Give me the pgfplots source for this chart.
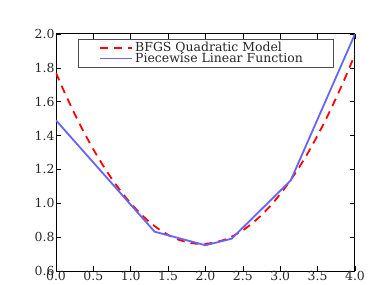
\documentclass[border=0pt]{standalone}
\usepackage{fontspec}
\setmainfont{DejaVu Serif}
\usepackage{pgfplots}
\pgfplotsset{compat=1.18}
\begin{document}
\begin{tikzpicture}[x=1bp,y=1bp]
\useasboundingbox (-56bp,-14bp) rectangle (318bp,271bp);
\begin{axis}[
  at={(0,0)}, anchor=south west,
  scale only axis, width=299bp, height=237bp,
  xmin=0, xmax=4, ymin=0.6, ymax=2.0,
  xtick={0,0.5,...,4}, ytick={0.6,0.8,...,2.0},
  tick align=inside, tick pos=both, major tick length=5bp,
  axis line style={line width=1pt},
  every tick/.style={black, line width=0.6pt},
  /pgf/number format/assume math mode=true,
  xticklabel style={/pgf/number format/.cd, fixed, fixed zerofill, precision=1},
  yticklabel style={/pgf/number format/.cd, fixed, fixed zerofill, precision=1},
  ticklabel style={font=\fontsize{12.5}{13}\selectfont, text=black!85},
  xticklabel shift=-3bp,
  yticklabel shift=-2bp,
  legend style={at={(0.074,0.979)}, anchor=north west, draw=black!70, line width=0.6pt,
    font=\fontsize{12.5}{10}\selectfont, text=black!85, inner ysep=1pt, inner xsep=21bp, row sep=-4pt,
    /tikz/every even column/.append style={column sep=4pt}},
  legend cell align=left,
  legend image code/.code={\draw[#1] (0bp,0bp) -- (32bp,0bp);},
]
\addplot[red, line width=1.8pt, dash pattern=on 8bp off 6bp] coordinates {
(0,1.770) (0.125,1.644) (0.25,1.527) (0.375,1.418) (0.5,1.318) (0.625,1.226)
(0.75,1.142) (0.875,1.066) (1.0,0.999) (1.125,0.940) (1.25,0.889) (1.375,0.847)
(1.5,0.813) (1.625,0.787) (1.75,0.770) (1.875,0.761) (2.0,0.760) (2.125,0.768)
(2.25,0.784) (2.375,0.808) (2.5,0.840) (2.625,0.881) (2.75,0.930) (2.875,0.988)
(3.0,1.054) (3.125,1.128) (3.25,1.210) (3.375,1.301) (3.5,1.400) (3.625,1.508)
(3.75,1.624) (3.875,1.748) (4.0,1.880)};
\addlegendentry{BFGS Quadratic Model}
\addplot[color={rgb,255:red,100;green,100;blue,255}, line width=1.8pt] coordinates {
(0,1.49) (1.32,0.832) (2.0,0.752) (2.35,0.791) (3.14,1.135) (4.0,2.0)};
\addlegendentry{Piecewise Linear Function\hspace*{8bp}}
\end{axis}
\end{tikzpicture}
\end{document}
